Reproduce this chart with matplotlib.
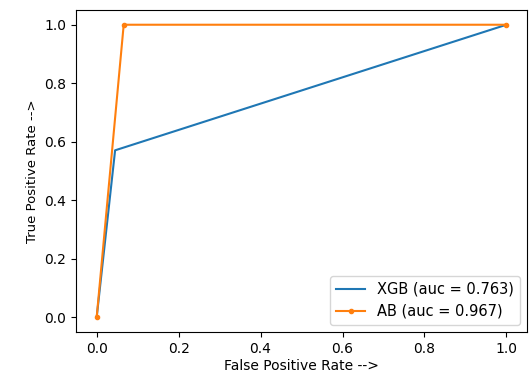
import matplotlib
matplotlib.use("Agg")
import matplotlib.pyplot as plt

# ROC points
xgb_fpr = [0.0, 0.045, 1.0]
xgb_tpr = [0.0, 0.571, 1.0]
ab_fpr = [0.0, 0.066, 1.0]
ab_tpr = [0.0, 1.0, 1.0]
xgb_auc = 0.763
ab_auc = 0.967

fig = plt.figure(figsize=(5.29, 3.74), dpi=100)
ax = fig.add_axes([0.144, 0.112, 0.852, 0.861])

ax.plot(xgb_fpr, xgb_tpr, linestyle='-', label='XGB (auc = %0.3f)' % xgb_auc)
ax.plot(ab_fpr, ab_tpr, marker='.', label='AB (auc = %0.3f)' % ab_auc)

ax.set_xlabel('False Positive Rate -->', fontsize=10, labelpad=2)
ax.set_ylabel('True Positive Rate -->', fontsize=9.5)
ax.tick_params(labelsize=10)
ax.legend(loc='lower right', fontsize=10.5)

fig.savefig('out.png', dpi=100)
